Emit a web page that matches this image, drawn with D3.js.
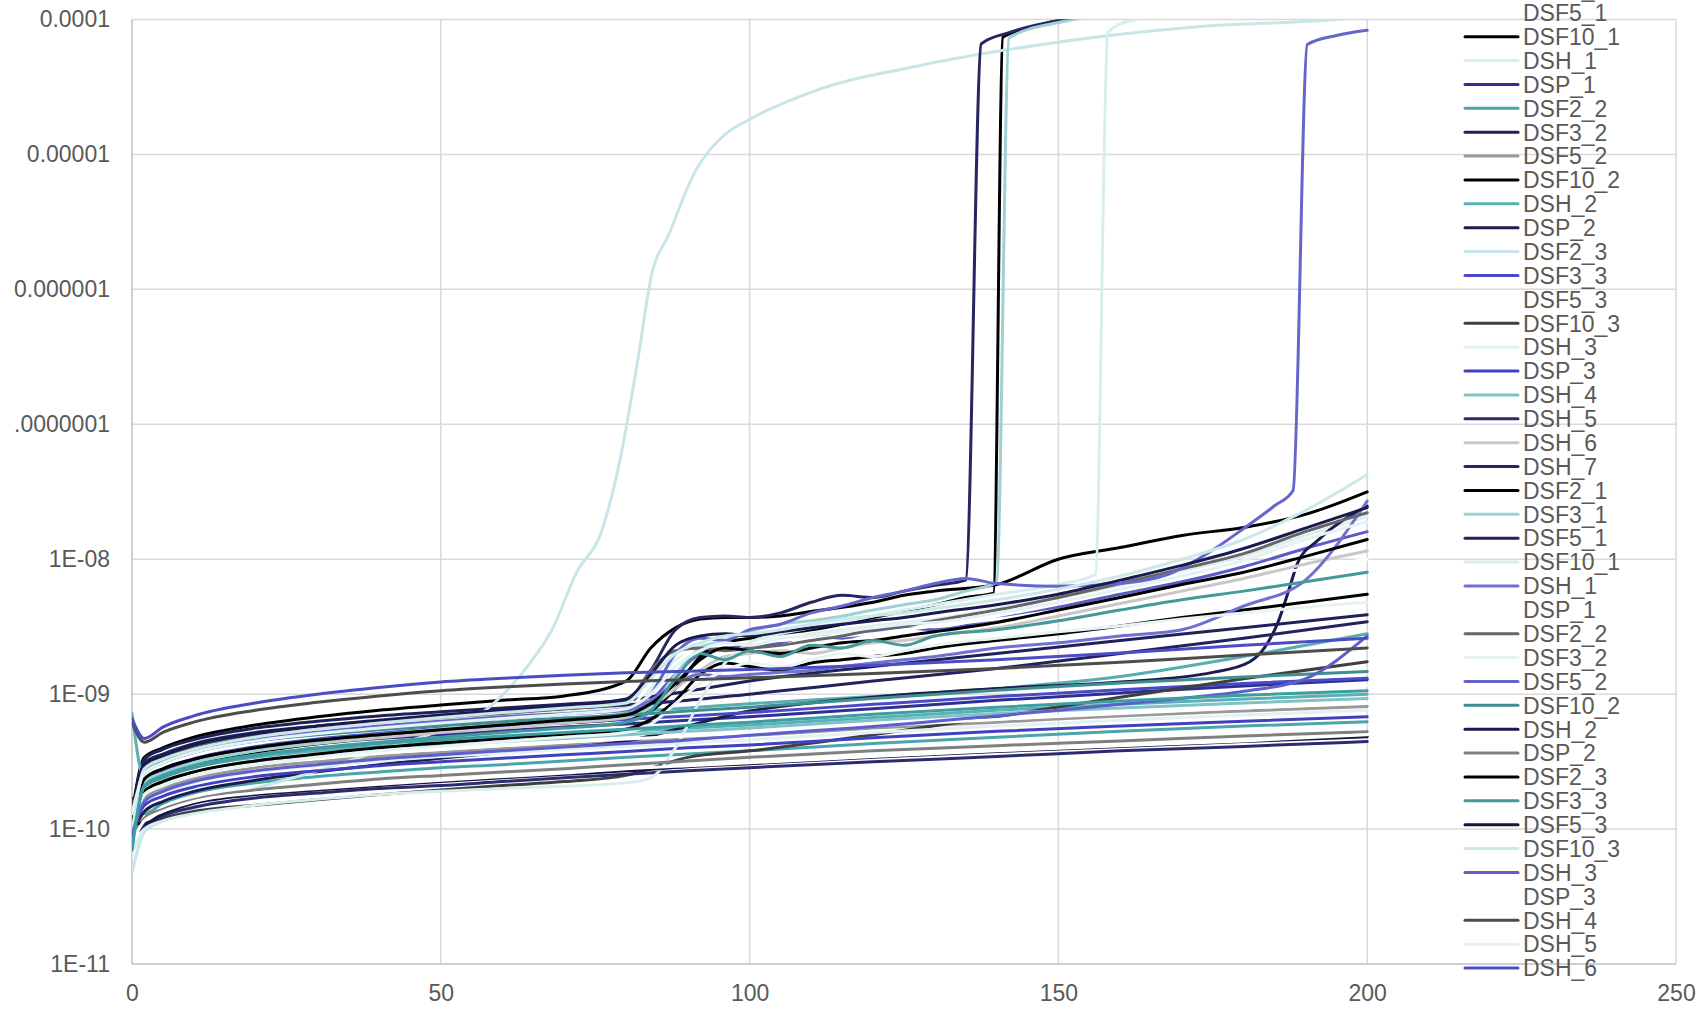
<!DOCTYPE html>
<html>
<head>
<meta charset="utf-8">
<script src="https://cdn.jsdelivr.net/npm/d3@7"></script>
<style>
  body { margin: 0; background: #fff; }
  svg { display: block; font-family: "Liberation Sans", Arial, sans-serif; }
</style>
</head>
<body>
<svg id="chart" width="1700" height="1009"></svg>
<script>
// all values are in units of 1e-10 (the axis labels show the real numbers)
let yTicks = [0.1, 1, 10, 100, 1000, 10000, 100000, 1000000]
let yTickLabels = ['1E-11', '1E-10', '1E-09', '1E-08', '.0000001', '0.000001', '0.00001', '0.0001']
let xTicks = [0, 50, 100, 150, 200, 250]

// x grids shared by several series
let xSmooth = [0, 2, 5, 10, 20, 30, 40, 50, 60, 70, 80, 90, 100, 120, 140, 160, 180, 200]
let xWiggle = [0, 2, 5, 10, 20, 30, 40, 50, 60, 70, 80, 84, 88, 92, 96, 100, 105, 110, 115, 120, 125, 130, 140, 150, 160, 170, 180, 190, 200]
// x grids of the series that jump off the chart
let xNavyJump = [0, 2, 5, 10, 20, 40, 60, 80, 84, 88, 92, 96, 100, 105, 110, 115, 120, 125, 130, 135, 137.5, 142, 152, 170, 200]
let xBlackJump = [0, 2, 5, 10, 20, 40, 60, 80, 84, 88, 92, 96, 100, 105, 110, 115, 120, 125, 130, 135, 139.5, 141, 146, 152, 170, 200]
let xTealJump = [0, 2, 5, 10, 20, 40, 60, 80, 84, 88, 92, 96, 100, 105, 110, 115, 120, 125, 130, 135, 140, 142, 150, 170, 200]
let xCyanJump = [0, 2, 5, 10, 20, 40, 60, 80, 84, 88, 92, 96, 100, 105, 110, 115, 120, 125, 130, 140, 150, 156, 158, 161, 170, 200]
let xPurpleJump = [0, 2, 5, 10, 20, 40, 60, 80, 84, 88, 92, 96, 100, 105, 110, 115, 120, 125, 130, 135, 140, 150, 160, 168, 175, 180, 185, 188, 190.3, 195, 200]
let xEarlyRise = [0, 2, 5, 10, 20, 30, 40, 50, 56, 61, 64, 68, 72, 76, 79, 82, 84, 87, 91, 96, 100, 110, 128, 146, 172, 195, 200]
let xLateRise = [0, 2, 5, 10, 20, 40, 60, 80, 100, 120, 140, 160, 175, 181, 183.3, 185.6, 187.2, 188.8, 192, 200]

let seriesNames = [
  'DSF2_1', 'DSF3_1', 'DSF5_1', 'DSF10_1', 'DSH_1', 'DSP_1', 'DSF2_2', 'DSF3_2', 'DSF5_2', 'DSF10_2', 'DSH_2',
  'DSP_2', 'DSF2_3', 'DSF3_3', 'DSF5_3', 'DSF10_3', 'DSH_3', 'DSP_3', 'DSH_4', 'DSH_5', 'DSH_6', 'DSH_7',
  'DSF2_1', 'DSF3_1', 'DSF5_1', 'DSF10_1', 'DSH_1', 'DSP_1', 'DSF2_2', 'DSF3_2', 'DSF5_2', 'DSF10_2', 'DSH_2',
  'DSP_2', 'DSF2_3', 'DSF3_3', 'DSF5_3', 'DSF10_3', 'DSH_3', 'DSP_3', 'DSH_4', 'DSH_5', 'DSH_6', 'DSH_7'
]

let seriesColors = [
  '#5b5bc8', '#55aeb2', '#ffffff', '#000000', '#dcefef', '#2e3192', '#4aa6ab', '#1f2259', '#999999', '#000000', '#5ab0b5',
  '#1c1c4f', '#c8e6e8', '#4a4ac8', '#ffffff', '#3f3f3f', '#e3f1f2', '#4040c0', '#7fc3c6', '#2b2b72', '#c8c8c8', '#262660',
  '#000000', '#9fd1d3', '#22225e', '#d8eeee', '#7070d0', '#ffffff', '#666666', '#e8f4f4', '#6565cc', '#3f8f90', '#1a1a50',
  '#808080', '#000000', '#45999b', '#15153f', '#cce8e8', '#5e5ecc', '#ffffff', '#4d4d4d', '#e5f2f3', '#4c4cc4', '#3a9ea3'
]

let seriesX = [
  xWiggle, xSmooth, xSmooth, xWiggle, xWiggle, xSmooth, xSmooth, xSmooth, xSmooth, xBlackJump, xSmooth,
  xLateRise, xEarlyRise, xSmooth, xWiggle, xSmooth, xSmooth, xSmooth, xSmooth, xSmooth, xWiggle, xNavyJump,
  xWiggle, xTealJump, xSmooth, xCyanJump, xWiggle, xSmooth, xWiggle, xWiggle, xPurpleJump, xSmooth, xWiggle,
  xSmooth, xWiggle, xWiggle, xSmooth, xWiggle, xWiggle, xSmooth, xSmooth, xWiggle, xSmooth, xSmooth
]

let seriesValues = [
  [0.75, 2.45, 2.9, 3.45, 4.2, 4.75, 5.2, 5.7, 6.2, 6.7, 7.3, 9, 14, 20, 23, 22, 24, 27, 26, 29, 31, 30, 36, 44, 55, 68, 88, 120, 160],
  [1.0, 2.9, 3.4, 4.0, 4.8, 5.35, 5.8, 6.2, 6.6, 7.0, 7.4, 7.9, 8.5, 9.6, 11, 13.5, 19, 28],
  [1.05, 2.2, 2.6, 3.1, 3.7, 4.1, 4.5, 4.8, 5.1, 5.4, 5.7, 6.0, 6.4, 7.3, 8.3, 9.4, 10.5, 11.6],
  [1.3, 3.4, 4.0, 4.8, 5.9, 6.8, 7.6, 8.3, 9.0, 9.7, 12.5, 22, 31, 36, 37, 37, 38, 41, 44, 48, 54, 58, 65, 100, 122, 150, 172, 215, 316],
  [0.6, 2.75, 3.25, 3.9, 4.7, 5.3, 5.9, 6.4, 6.9, 7.4, 8.1, 11, 18, 23, 24, 26, 25, 28, 30, 32, 34, 36, 43, 52, 64, 82, 105, 150, 207],
  [1.1, 2.3, 2.7, 3.2, 3.85, 4.3, 4.7, 5.0, 5.35, 5.7, 6.0, 6.4, 6.8, 7.8, 9.0, 10.2, 11.5, 12.8],
  [1.3, 1.3, 1.55, 1.85, 2.2, 2.45, 2.65, 2.85, 3.0, 3.2, 3.4, 3.6, 3.8, 4.3, 4.8, 5.3, 5.8, 6.25],
  [1.2, 3.3, 3.9, 4.6, 5.6, 6.3, 6.9, 7.4, 7.9, 8.4, 9.0, 10.5, 12.5, 16, 20, 25, 31, 38.8],
  [0.75, 1.7, 2.0, 2.35, 2.85, 3.15, 3.45, 3.7, 3.95, 4.2, 4.45, 4.7, 4.95, 5.6, 6.2, 6.9, 7.5, 8.1],
  [1.0, 2.15, 2.55, 3.0, 3.7, 4.8, 5.8, 6.6, 7.5, 11, 19, 24, 26, 28, 30, 33, 37, 41, 46, 52, 56, 740000, 880000, 1030000, 1200000, 1400000],
  [7.2, 2.4, 2.6, 2.9, 3.4, 3.8, 4.1, 4.4, 4.7, 5.0, 5.3, 5.6, 5.9, 6.7, 7.6, 8.4, 9.2, 10],
  [0.9, 1.35, 1.6, 1.9, 2.3, 3.0, 3.7, 4.5, 7.5, 9.5, 11, 12.3, 14.5, 17.4, 21.8, 34.5, 57, 95, 138, 248],
  [0.47, 0.95, 1.15, 1.4, 2.0, 2.7, 3.8, 5.4, 6.9, 11, 16, 30, 80, 160, 540, 3200, 12000, 26000, 72000, 140000, 182000, 290000, 460000, 640000, 880000, 1000000, 1050000],
  [0.9, 2.5, 2.95, 3.5, 4.2, 4.65, 5.05, 5.45, 5.8, 6.15, 6.5, 6.9, 7.3, 8.4, 9.6, 10.8, 12.0, 13.1],
  [1.0, 2.5, 2.95, 3.5, 4.3, 4.9, 5.4, 5.9, 6.4, 6.9, 7.6, 12, 19, 22, 23, 24, 25, 26, 27, 28, 30, 32, 36, 42, 50, 60, 72, 85, 100],
  [1.7, 1.05, 1.2, 1.35, 1.5, 1.65, 1.8, 1.95, 2.1, 2.25, 2.5, 3.4, 3.8, 5.0, 6.8, 9.5, 13, 17.4],
  [1.2, 1.6, 1.85, 2.2, 2.65, 2.95, 3.2, 3.45, 3.65, 3.9, 4.1, 4.35, 4.6, 5.2, 5.8, 6.4, 7.0, 7.6],
  [0.95, 1.5, 1.75, 2.05, 2.45, 2.7, 2.95, 3.15, 3.35, 3.55, 3.75, 4.0, 4.2, 4.75, 5.3, 5.8, 6.3, 6.8],
  [1.4, 1.9, 2.25, 2.65, 3.2, 3.55, 3.9, 4.15, 4.45, 4.7, 5.0, 5.3, 5.6, 6.4, 7.2, 7.9, 8.6, 9.3],
  [0.9, 1.05, 1.25, 1.45, 1.7, 1.85, 2.0, 2.1, 2.25, 2.4, 2.55, 2.7, 2.85, 3.15, 3.45, 3.8, 4.1, 4.45],
  [0.8, 2.2, 2.6, 3.1, 3.8, 4.3, 4.75, 5.2, 5.6, 6.1, 6.7, 8, 11, 15, 19, 20, 21, 20, 22, 24, 25, 27, 31, 38, 47, 58, 72, 92, 115],
  [0.9, 2.95, 3.45, 4.1, 5.0, 6.3, 7.4, 9.0, 15, 30, 37, 38, 37, 40, 48, 54, 52, 58, 64, 70, 660000, 800000, 1020000, 1200000, 1400000],
  [0.95, 1.9, 2.25, 2.65, 3.2, 3.6, 4.0, 4.35, 4.7, 5.05, 5.5, 6.5, 9, 14, 17, 16, 15, 17, 18, 19, 20, 22, 25, 28, 32, 37, 42, 48, 55],
  [1.15, 2.2, 2.6, 3.1, 3.8, 5.0, 6.0, 6.9, 8, 14, 22, 25, 29, 33, 35, 38, 42, 46, 50, 58, 67, 730000, 950000, 1200000, 1400000],
  [0.8, 3.1, 3.6, 4.3, 5.2, 5.8, 6.3, 6.8, 7.3, 7.8, 8.3, 9.0, 10.0, 12.5, 15.5, 20, 26, 34.4],
  [0.65, 1.0, 1.15, 1.3, 1.5, 1.8, 2.0, 2.2, 2.4, 4, 9, 17, 24, 28, 31, 34, 38, 42, 46, 55, 65, 77, 800000, 960000, 1100000, 1400000],
  [1.0, 2.6, 3.1, 3.7, 4.5, 5.1, 5.6, 6.1, 6.6, 7.1, 7.6, 9, 12, 14, 13.5, 14, 14.5, 15, 16, 17, 18, 19, 22, 24, 27, 30, 45, 70, 270],
  [1.0, 1.8, 2.1, 2.5, 3.0, 3.35, 3.65, 3.9, 4.15, 4.4, 4.65, 4.9, 5.15, 5.8, 6.5, 7.2, 7.9, 8.6],
  [0.9, 2.9, 3.4, 4.1, 5.0, 5.6, 6.2, 6.7, 7.2, 7.8, 8.6, 15, 21, 22, 21, 22, 23, 25, 27, 30, 32, 35, 42, 52, 66, 85, 110, 160, 221],
  [1.2, 1.8, 2.1, 2.5, 3.0, 3.4, 3.8, 4.1, 4.45, 4.8, 5.2, 6.0, 8.5, 12, 15, 17, 16, 18, 20, 19, 21, 23, 26, 29, 32, 36, 40, 44, 48],
  [0.8, 2.7, 3.2, 3.8, 4.6, 5.8, 6.8, 7.8, 10, 20, 26, 25, 30, 33, 40, 45, 52, 58, 66, 72, 66, 63, 66, 78, 117, 169, 249, 323, 653000, 760000, 831000],
  [1.25, 2.7, 3.2, 3.75, 4.5, 5.0, 5.45, 5.85, 6.25, 6.65, 7.0, 7.5, 8.0, 9.3, 10.7, 12.1, 13.4, 14.7],
  [1.15, 3.0, 3.5, 4.2, 5.1, 5.8, 6.4, 7.0, 7.6, 8.2, 9.2, 14, 23, 27, 28, 27, 29, 31, 33, 35, 37, 40, 46, 55, 70, 90, 120, 170, 241],
  [0.85, 1.2, 1.4, 1.65, 1.95, 2.15, 2.35, 2.5, 2.65, 2.8, 3.0, 3.2, 3.4, 3.8, 4.15, 4.5, 4.9, 5.27],
  [1.1, 2.35, 2.8, 3.3, 4.0, 4.55, 5.0, 5.45, 5.9, 6.4, 7.0, 8.5, 12, 18, 22, 21, 20, 22, 24, 25, 27, 29, 34, 42, 52, 65, 80, 105, 140],
  [0.85, 2.05, 2.4, 2.85, 3.5, 4.0, 4.4, 4.8, 5.2, 5.6, 6.2, 7.5, 13, 20, 18, 21, 19, 23, 22, 25, 23, 27, 30, 35, 42, 50, 58, 68, 80],
  [1.1, 1.1, 1.3, 1.55, 1.8, 1.95, 2.1, 2.25, 2.4, 2.55, 2.7, 2.9, 3.05, 3.4, 3.75, 4.1, 4.45, 4.84],
  [0.95, 2.8, 3.3, 3.9, 4.8, 5.5, 6.1, 6.7, 7.3, 7.9, 8.6, 13, 20, 24, 27, 28, 30, 33, 36, 38, 40, 43, 50, 60, 75, 100, 140, 230, 423],
  [0.9, 1.6, 1.9, 2.25, 2.7, 3.0, 3.3, 3.55, 3.8, 4.05, 4.3, 4.4, 4.5, 4.65, 4.8, 4.95, 5.15, 5.35, 5.55, 5.75, 6.0, 6.3, 6.9, 7.6, 8.4, 9.3, 10.5, 13, 27],
  [0.8, 1.15, 1.35, 1.6, 1.85, 2.0, 2.15, 2.3, 2.45, 2.6, 2.8, 2.95, 3.1, 3.45, 3.8, 4.15, 4.5, 5.0],
  [6.2, 4.4, 5.2, 6.2, 7.6, 8.7, 9.7, 10.6, 11.3, 11.9, 12.4, 12.8, 13.2, 14.2, 15.5, 17.2, 19.5, 22],
  [1.3, 2.6, 3.1, 3.7, 4.5, 5.1, 5.6, 6.1, 6.6, 7.1, 7.8, 10, 16, 21, 24, 23, 26, 27, 29, 31, 33, 34, 40, 48, 60, 75, 98, 140, 190],
  [6.6, 4.7, 5.7, 6.9, 8.6, 10.0, 11.2, 12.3, 13.1, 13.8, 14.4, 14.8, 15.2, 16.4, 18.0, 20.2, 23.0, 26],
  [0.7, 2.1, 2.5, 2.95, 3.55, 3.95, 4.3, 4.6, 4.9, 5.2, 5.5, 5.85, 6.2, 7.1, 8.0, 8.9, 9.8, 10.6]
]

let svg = d3.select('#chart')
let plotLeft = 132, plotRight = 1676, plotTop = 19.5, plotBottom = 964

let x = d3.scaleLinear().domain([0, 250]).range([plotLeft, plotRight])
let y = d3.scaleLog().domain([0.1, 1000000]).range([plotBottom, plotTop])

// gridlines
svg.append('g').selectAll('line')
  .data(yTicks.slice(1))
  .enter().append('line')
  .attr('x1', plotLeft).attr('x2', plotRight)
  .attr('y1', d => y(d)).attr('y2', d => y(d))
  .attr('stroke', '#d9d9d9').attr('stroke-width', 1.5)

svg.append('g').selectAll('line')
  .data(xTicks.slice(1))
  .enter().append('line')
  .attr('x1', d => x(d)).attr('x2', d => x(d))
  .attr('y1', plotTop).attr('y2', plotBottom)
  .attr('stroke', '#d9d9d9').attr('stroke-width', 1.5)

// axis lines
svg.append('line').attr('x1', plotLeft).attr('x2', plotLeft).attr('y1', plotTop).attr('y2', plotBottom)
  .attr('stroke', '#bfbfbf').attr('stroke-width', 1.5)
svg.append('line').attr('x1', plotLeft).attr('x2', plotRight).attr('y1', plotBottom).attr('y2', plotBottom)
  .attr('stroke', '#bfbfbf').attr('stroke-width', 1.5)

// tick labels
let yAxis = svg.append('g').attr('transform', `translate(${plotLeft},0)`)
  .call(d3.axisLeft(y).tickValues(yTicks).tickFormat((d, i) => yTickLabels[i]).tickSize(0).tickPadding(22))
let xAxis = svg.append('g').attr('transform', `translate(0,${plotBottom})`)
  .call(d3.axisBottom(x).tickValues(xTicks).tickFormat(d3.format('d')).tickSize(0).tickPadding(21))
;[yAxis, xAxis].forEach(a => {
  a.select('.domain').remove()
  a.selectAll('text').attr('font-size', 23).attr('fill', '#595959')
    .attr('font-family', '"Liberation Sans", Arial, sans-serif')
})

// lines
svg.append('clipPath').attr('id', 'plotClip')
  .append('rect').attr('x', plotLeft).attr('y', plotTop)
  .attr('width', plotRight - plotLeft).attr('height', plotBottom - plotTop)

let line = d3.line()
  .x(d => x(d[0]))
  .y(d => y(d[1]))
  .curve(d3.curveMonotoneX)

svg.append('g').attr('clip-path', 'url(#plotClip)')
  .selectAll('path')
  .data(seriesValues)
  .enter().append('path')
  .attr('d', (vals, i) => line(vals.map((v, j) => [seriesX[i][j], v])))
  .attr('fill', 'none')
  .attr('stroke', (vals, i) => seriesColors[i])
  .attr('stroke-width', 3)
  .attr('stroke-linejoin', 'round')
  .attr('stroke-linecap', 'round')

// legend (runs past the chart area and is cut off at both ends)
svg.append('clipPath').attr('id', 'legendClip')
  .append('rect').attr('x', 1400).attr('y', 0).attr('width', 300).attr('height', 981)

let rowY = d3.scaleLinear().domain([3, 4]).range([36.7, 60.58])

let legend = svg.append('g').attr('clip-path', 'url(#legendClip)')
let rows = legend.selectAll('g')
  .data(seriesNames)
  .enter().append('g')
  .attr('transform', (d, i) => `translate(0,${rowY(i)})`)

rows.append('line')
  .attr('x1', 1465).attr('x2', 1518)
  .attr('stroke', (d, i) => seriesColors[i])
  .attr('stroke-width', 3)
  .attr('stroke-linecap', 'round')

rows.append('text')
  .attr('x', 1523)
  .attr('dy', '0.36em')
  .attr('font-size', 23)
  .attr('fill', '#595959')
  .text(d => d)
</script>
</body>
</html>
